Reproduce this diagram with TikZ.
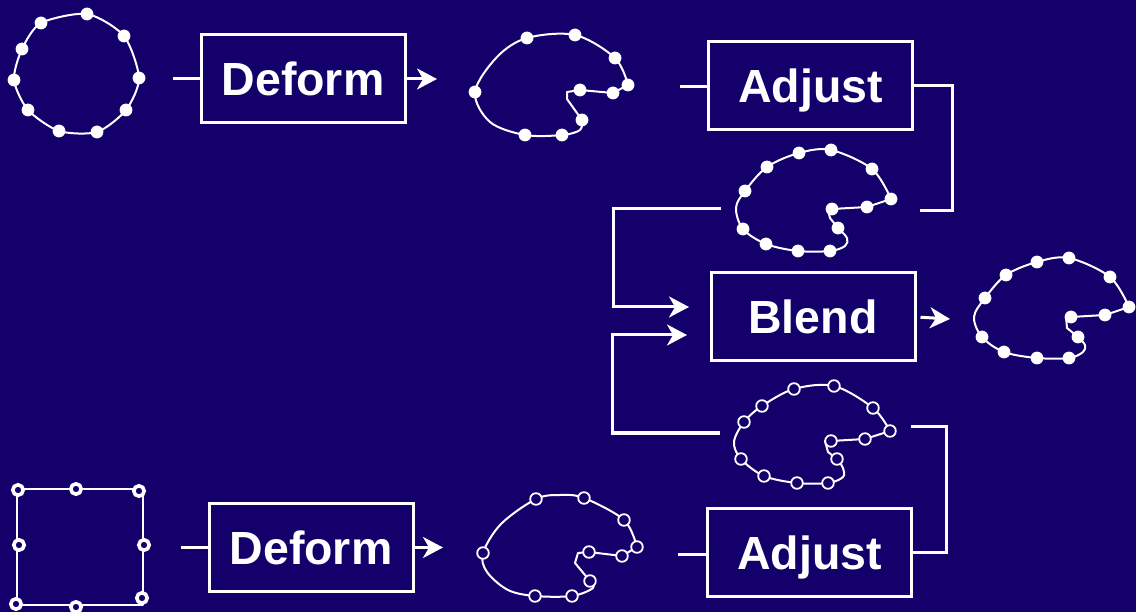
\documentclass[tikz,border=0pt]{standalone}
\usepackage{fontspec}
\setmainfont{Liberation Sans}
\usetikzlibrary{arrows.meta}
\definecolor{bg}{RGB}{20,0,106}
\begin{document}
\begin{tikzpicture}[x=1pt,y=-1pt,
  box/.style={draw=white, line width=3pt, minimum width=204pt, minimum height=88pt,
    inner sep=0pt, text=white, font=\fontsize{46.5}{50}\selectfont\bfseries,
    text height=33pt, text depth=0pt},
  conn/.style={draw=white, line width=3pt},
  arr/.style={conn, -{Stealth[length=20pt,width=21pt,inset=6pt]}},
  outline/.style={draw=white, line width=2pt, line join=round},
  fdot/.style={fill=white},
  hdot/.style={draw=white, fill=bg, line width=1.8pt},
  sqdot/.style={draw=white, fill=bg, line width=3.6pt},
]
\useasboundingbox (0,0) rectangle (1136,612);
\fill[bg] (0,0) rectangle (1136,612);

% boxes
\node[box] (deform1) at (303,79) {Deform};
\node[box] (adjust1) at (810.5,86) {Adjust};
\node[box] (blend) at (813,317) {Blend};
\node[box] (deform2) at (311,547.5) {Deform};
\node[box] (adjust2) at (809.5,552.5) {Adjust};

% connector ends
\coordinate (in1) at (173,79);
\coordinate (out1) at (437,79);
\coordinate (in2) at (680,87);
\coordinate (r1) at (920,211);
\coordinate (l1) at (721,209);
\coordinate (t1) at (689,307);
\coordinate (l2) at (720,433);
\coordinate (t2) at (687,335);
\coordinate (bout) at (950,319);
\coordinate (in3) at (181,547.5);
\coordinate (out3) at (443,547.5);
\coordinate (in4) at (678,554);
\coordinate (r2) at (911,427);

% connectors
\draw[conn] (in1) -- (deform1.west);
\draw[arr] (deform1.east) -- (out1);
\draw[conn] (in2) -- (in2 -| adjust1.west);
\draw[conn] (adjust1.east) -- ++(38,0) |- (r1);
\draw[arr] (l1) -- ++(-108,0) |- (t1);
\draw[arr] (l2) -- ++(-108,0) |- (t2);
\draw[arr, shorten <=4pt] (blend.east) -- (bout);
\draw[conn] (in3) -- (deform2.west);
\draw[arr] (deform2.east) -- (out3);
\draw[conn] (in4) -- (in4 -| adjust2.west);
\draw[conn] (adjust2.east) -- ++(33,0) |- (r2);

% circle (top left)
\draw[outline] plot[smooth cycle, tension=0.45] coordinates {(87,14) (124,36) (139,78) (126,110) (97,132) (59,131) (28,110) (14,80) (22,49) (41,23)};
\foreach \p in {(87,14),(124,36),(139,78),(126,110),(97,132),(59,131),(28,110),(14,80),(22,49),(41,23)}
  \fill[fdot] \p circle (6.4pt);

% deformed (top)
\draw[outline] plot[smooth, tension=0.55] coordinates {(582,120) (580,130) (562,135) (525,135) (490,122) (475,92) (497,57) (527,38) (575,35) (615,58) (628,85)}
  -- (613,93) -- (580,90) -- (567,92) -- (567,99) -- (582,120);
\foreach \p in {(582,120),(562,135),(525,135),(475,92),(527,38),(575,35),(615,58),(628,85),(613,93),(580,90)}
  \fill[fdot] \p circle (6.4pt);

% adjusted (top)
\draw[outline] plot[smooth, tension=0.55] coordinates {(838,228) (847,238) (845,246) (830,251) (798,251) (766,244) (743,229) (736,208) (745,191) (767,167) (799,153) (831,150) (872,169) (891,199)}
  -- (867,207) -- (832,209) -- (828,210) -- (830,218) -- (838,228);
\foreach \p in {(838,228),(830,251),(798,251),(766,244),(743,229),(745,191),(767,167),(799,153),(831,150),(872,169),(891,199),(867,207),(832,209)}
  \fill[fdot] \p circle (6.4pt);

% blended
\draw[outline] plot[smooth, tension=0.55] coordinates {(1078,337) (1085,345) (1083,352) (1069,358) (1037,358) (1004,352) (982,337) (974,317) (985,298) (1006,275) (1037,262) (1069,258) (1110,277) (1129,307)}
  -- (1105,315) -- (1071,317) -- (1066,317) -- (1067,328) -- (1078,337);
\foreach \p in {(1078,337),(1069,358),(1037,358),(1004,352),(982,337),(985,298),(1006,275),(1037,262),(1069,258),(1110,277),(1129,307),(1105,315),(1071,317)}
  \fill[fdot] \p circle (6.4pt);

% adjusted (bottom, hollow points)
\draw[outline] plot[smooth, tension=0.55] coordinates {(837,459) (843,468) (843,477) (828,483) (797,483) (764,476) (741,459) (734,442) (744,422) (762,406) (794,389) (834,386) (873,408) (890,431)}
  -- (865,439) -- (831,441) -- (825,441) -- (828,452) -- (837,459);
\foreach \p in {(837,459),(828,483),(797,483),(764,476),(741,459),(744,422),(762,406),(794,389),(834,386),(873,408),(890,431),(865,439),(831,441)}
  \draw[hdot] \p circle (5.8pt);

% square (bottom left)
\draw[outline] (17,489) rectangle (143,605);
\foreach \p in {(18,490),(76,489),(139,491),(19,545),(144,545),(16,604),(76,607),(142,598)}
  \draw[sqdot] \p circle (5.2pt);

% deformed (bottom, hollow points)
\draw[outline] plot[smooth, tension=0.55] coordinates {(590,581) (593,588) (572,596) (535,596) (508,590) (487,572) (483,553) (501,524) (536,499) (560,495) (584,498) (624,520) (637,547)}
  -- (622,556) -- (589,552) -- (578,553) -- (575,563) -- (590,581);
\foreach \p in {(590,581),(572,596),(535,596),(483,553),(536,499),(584,498),(624,520),(637,547),(622,556),(589,552)}
  \draw[hdot] \p circle (5.8pt);
\end{tikzpicture}
\end{document}
